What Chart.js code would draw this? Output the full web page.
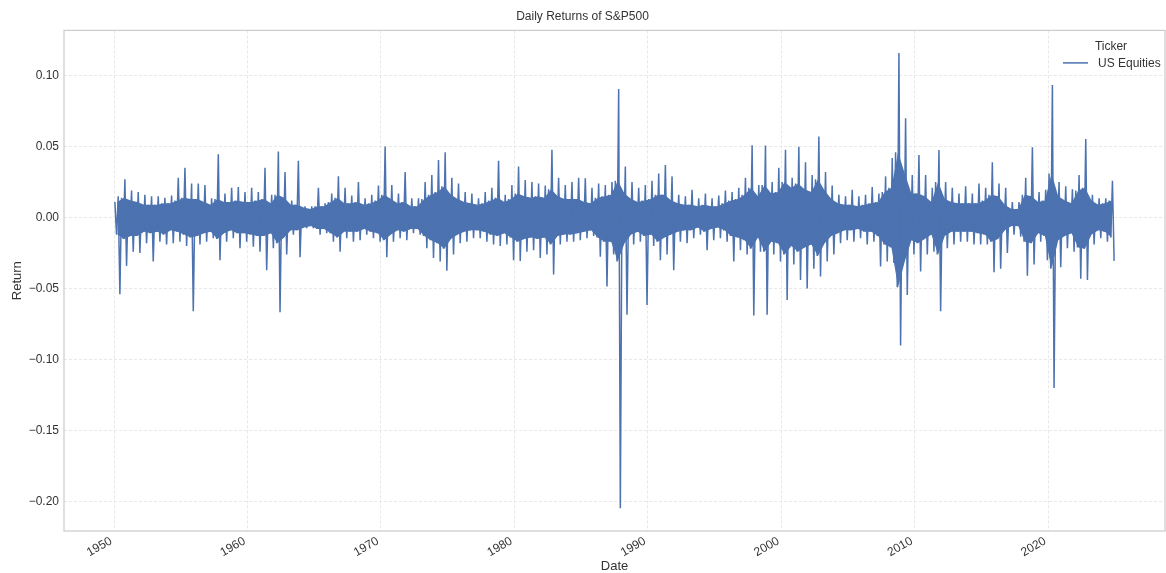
<!DOCTYPE html>
<html><head><meta charset="utf-8">
<script src="https://cdn.jsdelivr.net/npm/chart.js@4/dist/chart.umd.min.js"></script>
<style>html,body{margin:0;padding:0;background:#fff}#wrap{width:1166px;height:573px;position:relative}</style>
</head><body><div id="wrap"><canvas id="c" width="1166" height="573"></canvas></div>
<script>
const chartTitle = 'Daily Returns of S&P500';
const seriesName = 'US Equities';
const legendTitle = 'Ticker';
const xAxisTitle = 'Date';
const yAxisTitle = 'Return';

// calendar years covered, each split into two half-year periods
const years = [1950,1951,1952,1953,1954,1955,1956,1957,1958,1959,
  1960,1961,1962,1963,1964,1965,1966,1967,1968,1969,
  1970,1971,1972,1973,1974,1975,1976,1977,1978,1979,
  1980,1981,1982,1983,1984,1985,1986,1987,1988,1989,
  1990,1991,1992,1993,1994,1995,1996,1997,1998,1999,
  2000,2001,2002,2003,2004,2005,2006,2007,2008,2009,
  2010,2011,2012,2013,2014,2015,2016,2017,2018,2019,
  2020,2021,2022,2023,2024];
const halves = [0, 0.5];

// largest daily return in each half-year (H1, H2 per year)
const peakHigh = [
  0.015,0.027, 0.019,0.018, 0.016,0.015, 0.015,0.014, 0.0155,0.028, 0.035,0.024, 0.024,0.023, 0.0135,0.0446, 0.017,0.021, 0.0215,0.018,
  0.021,0.018, 0.035,0.016, 0.0465,0.032, 0.012,0.040, 0.008,0.008, 0.021,0.010, 0.017,0.029, 0.021,0.0155, 0.025,0.0135, 0.016,0.0225,
  0.050,0.023, 0.017,0.032, 0.0135,0.0135, 0.025,0.030, 0.0405,0.046, 0.028,0.024, 0.018,0.017, 0.0135,0.018, 0.021,0.040, 0.016,0.023,
  0.036,0.0265, 0.025,0.024, 0.0225,0.0477, 0.028,0.023, 0.025,0.028, 0.0277,0.021, 0.024,0.023, 0.025,0.0906, 0.036,0.025, 0.021,0.023,
  0.026,0.031, 0.037,0.029, 0.016,0.015, 0.0195,0.0135, 0.017,0.0135, 0.0155,0.019, 0.018,0.021, 0.028,0.051, 0.023,0.0507, 0.025,0.035,
  0.0477,0.028, 0.0498,0.039, 0.030,0.057, 0.032,0.0225, 0.016,0.015, 0.0195,0.015, 0.016,0.0215, 0.017,0.029, 0.042,0.1158, 0.070,0.030,
  0.044,0.030, 0.021,0.0475, 0.025,0.021, 0.017,0.022, 0.017,0.024, 0.021,0.039, 0.024,0.021, 0.011,0.011, 0.028,0.0495, 0.018,0.0195,
  0.0934,0.025, 0.022,0.020, 0.030,0.0554, 0.016,0.0135, 0.0135,0.026];

// largest daily loss in each half-year
const peakLow = [
  -0.054,-0.034, -0.024,-0.025, -0.018,-0.031, -0.017,-0.019, -0.018,-0.017, -0.020,-0.066, -0.019,-0.017, -0.0145,-0.030, -0.017,-0.0145, -0.0215,-0.017,
  -0.0205,-0.024, -0.037,-0.0215, -0.0667,-0.026, -0.012,-0.028, -0.0075,-0.0075, -0.012,-0.011, -0.017,-0.024, -0.0145,-0.017, -0.016,-0.012, -0.0145,-0.017,
  -0.028,-0.017, -0.0145,-0.016, -0.011,-0.012, -0.0215,-0.0285, -0.031,-0.0375, -0.026,-0.018, -0.017,-0.0145, -0.0145,-0.017, -0.019,-0.020, -0.019,-0.030,
  -0.0305,-0.024, -0.023,-0.0285, -0.026,-0.040, -0.019,-0.017, -0.017,-0.016, -0.0145,-0.013, -0.0275,-0.0486, -0.026,-0.2047, -0.0685,-0.019, -0.017,-0.0615,
  -0.020,-0.030, -0.026,-0.037, -0.017,-0.018, -0.0145,-0.012, -0.023,-0.016, -0.0145,-0.017, -0.031,-0.023, -0.026,-0.069, -0.024,-0.0685, -0.026,-0.031,
  -0.058,-0.033, -0.044,-0.050, -0.036,-0.0415, -0.031,-0.026, -0.018,-0.016, -0.017,-0.0145, -0.019,-0.017, -0.0345,-0.031, -0.032,-0.090, -0.0545,-0.026,
  -0.038,-0.026, -0.024,-0.066, -0.0215,-0.019, -0.017,-0.017, -0.019,-0.019, -0.019,-0.0385, -0.036,-0.025, -0.012,-0.0135, -0.041,-0.033, -0.017,-0.030,
  -0.120,-0.035, -0.0215,-0.024, -0.043,-0.044, -0.019,-0.0145, -0.017,-0.0305];

// upper edge of the dense band of ordinary daily moves in each half-year
const coreHigh = [
  0.011,0.014, 0.012,0.011, 0.009,0.009, 0.009,0.010, 0.010,0.012, 0.014,0.013, 0.013,0.011, 0.009,0.013, 0.011,0.011, 0.012,0.011,
  0.011,0.012, 0.013,0.010, 0.016,0.014, 0.009,0.009, 0.007,0.006, 0.008,0.008, 0.011,0.014, 0.010,0.010, 0.011,0.009, 0.010,0.012,
  0.016,0.013, 0.010,0.011, 0.008,0.008, 0.013,0.016, 0.018,0.022, 0.016,0.013, 0.011,0.010, 0.009,0.010, 0.012,0.014, 0.011,0.013,
  0.017,0.015, 0.014,0.015, 0.014,0.020, 0.015,0.013, 0.013,0.013, 0.011,0.010, 0.014,0.015, 0.016,0.026, 0.017,0.013, 0.011,0.012,
  0.013,0.016, 0.016,0.012, 0.010,0.009, 0.009,0.008, 0.009,0.008, 0.008,0.010, 0.012,0.013, 0.016,0.021, 0.015,0.023, 0.017,0.018,
  0.025,0.021, 0.024,0.020, 0.018,0.027, 0.019,0.013, 0.010,0.009, 0.009,0.008, 0.009,0.010, 0.011,0.018, 0.021,0.046, 0.031,0.017,
  0.017,0.015, 0.011,0.025, 0.013,0.011, 0.010,0.010, 0.010,0.010, 0.012,0.016, 0.015,0.009, 0.006,0.006, 0.016,0.015, 0.011,0.012,
  0.031,0.015, 0.012,0.010, 0.019,0.021, 0.012,0.009, 0.010,0.012];

// lower edge of the dense band in each half-year
const coreLow = [
  -0.012,-0.015, -0.013,-0.013, -0.010,-0.011, -0.010,-0.012, -0.009,-0.010, -0.012,-0.014, -0.013,-0.011, -0.010,-0.015, -0.011,-0.009, -0.011,-0.011,
  -0.012,-0.013, -0.013,-0.011, -0.018,-0.014, -0.009,-0.009, -0.007,-0.006, -0.008,-0.008, -0.011,-0.014, -0.010,-0.010, -0.010,-0.008, -0.010,-0.011,
  -0.016,-0.012, -0.009,-0.010, -0.008,-0.008, -0.013,-0.016, -0.018,-0.022, -0.015,-0.012, -0.010,-0.009, -0.009,-0.010, -0.012,-0.013, -0.011,-0.014,
  -0.017,-0.015, -0.014,-0.015, -0.014,-0.019, -0.013,-0.012, -0.012,-0.011, -0.010,-0.009, -0.014,-0.017, -0.017,-0.031, -0.018,-0.012, -0.010,-0.013,
  -0.012,-0.017, -0.014,-0.012, -0.010,-0.009, -0.009,-0.007, -0.010,-0.008, -0.007,-0.009, -0.013,-0.014, -0.016,-0.022, -0.014,-0.024, -0.017,-0.018,
  -0.026,-0.020, -0.024,-0.021, -0.019,-0.027, -0.018,-0.013, -0.011,-0.009, -0.009,-0.008, -0.010,-0.010, -0.013,-0.019, -0.021,-0.049, -0.031,-0.016,
  -0.018,-0.015, -0.012,-0.026, -0.013,-0.010, -0.010,-0.010, -0.010,-0.011, -0.012,-0.017, -0.015,-0.009, -0.006,-0.006, -0.017,-0.018, -0.011,-0.013,
  -0.036,-0.016, -0.013,-0.011, -0.021,-0.022, -0.012,-0.009, -0.010,-0.014];

const xTicks = [1950,1960,1970,1980,1990,2000,2010,2020];
const yTicks = [-0.20,-0.15,-0.10,-0.05,0.00,0.05,0.10];
const xLimits = [1946.25, 2028.75];
const yLimits = [-0.2207, 0.1318];

const lineColor = '#4c72b0';
const textColor = '#333333';
const gridColor = '#e2e2e2';
const frameColor = '#cccccc';
const fontFamily = "'Liberation Sans', Arial, 'DejaVu Sans', sans-serif";

// build point tables from the arrays
const periods = [];
years.forEach(y => halves.forEach(h => periods.push(y + h)));
const zigzag = [], bandTop = [], bandBottom = [];
periods.forEach((p, i) => {
  zigzag.push({x: p + 0.0625, y: coreHigh[i]});
  zigzag.push({x: p + 0.1875, y: coreLow[i]});
  zigzag.push({x: p + 0.3125, y: peakHigh[i]});
  zigzag.push({x: p + 0.4375, y: peakLow[i]});
  bandTop.push({x: p + 0.25, y: coreHigh[i]});
  bandBottom.push({x: p + 0.25, y: coreLow[i]});
});

const framePlugin = {
  id: 'frame',
  beforeDatasetsDraw(chart) {
    const {ctx, chartArea: a} = chart;
    ctx.save();
    ctx.strokeStyle = frameColor;
    ctx.lineWidth = 1.25;
    ctx.strokeRect(a.left, a.top, a.right - a.left, a.bottom - a.top);
    ctx.restore();
  }
};

// legend drawn in the upper right corner of the plot area, like matplotlib's "best" location here
const legendPlugin = {
  id: 'innerLegend',
  afterDraw(chart) {
    const {ctx, chartArea: a} = chart;
    ctx.save();
    ctx.fillStyle = textColor;
    ctx.font = '12px ' + fontFamily;
    ctx.textBaseline = 'middle';
    ctx.textAlign = 'center';
    ctx.fillText(legendTitle, a.right - 54, a.top + 16);
    ctx.textAlign = 'left';
    ctx.fillText(seriesName, a.right - 67, a.top + 33);
    ctx.strokeStyle = lineColor;
    ctx.lineWidth = 1.5;
    ctx.beginPath();
    ctx.moveTo(a.right - 102, a.top + 32.5);
    ctx.lineTo(a.right - 77, a.top + 32.5);
    ctx.stroke();
    ctx.restore();
  }
};

new Chart(document.getElementById('c'), {
  type: 'line',
  data: {
    datasets: [
      { label: seriesName, data: zigzag, borderColor: lineColor, borderWidth: 1.5,
        pointRadius: 0, tension: 0, fill: false, order: 1 },
      { label: 'bandTop', data: bandTop, borderWidth: 0, borderColor: 'rgba(0,0,0,0)',
        backgroundColor: lineColor, pointRadius: 0, tension: 0, fill: '+1', order: 2 },
      { label: 'bandBottom', data: bandBottom, borderWidth: 0, borderColor: 'rgba(0,0,0,0)',
        pointRadius: 0, tension: 0, fill: false, order: 3 }
    ]
  },
  options: {
    responsive: false, animation: false, devicePixelRatio: 1,
    layout: { padding: { left: 0, right: 1, top: 0, bottom: 0 } },
    plugins: {
      tooltip: { enabled: false },
      legend: { display: false },
      title: { display: true, text: chartTitle, color: textColor,
        font: { family: fontFamily, size: 12, weight: 'normal' }, padding: { top: 9, bottom: 7 } }
    },
    scales: {
      x: {
        type: 'linear', min: xLimits[0], max: xLimits[1],
        afterBuildTicks: ax => { ax.ticks = xTicks.map(v => ({ value: v })); },
        afterFit: ax => { ax.height = 42; },
        grid: { color: gridColor, lineWidth: 0.8, drawTicks: false },
        border: { display: false, dash: [3, 2] },
        ticks: { color: textColor, font: { family: fontFamily, size: 12 }, minRotation: 30, maxRotation: 30,
          padding: 3, labelOffset: -3, autoSkip: false, callback: v => String(v) },
        title: { display: true, text: xAxisTitle, color: textColor,
          font: { family: fontFamily, size: 13, lineHeight: 1 }, padding: { top: 0, bottom: 0 } }
      },
      y: {
        type: 'linear', min: yLimits[0], max: yLimits[1],
        afterBuildTicks: ax => { ax.ticks = yTicks.map(v => ({ value: v })); },
        afterFit: ax => { ax.width = 64; },
        grid: { color: gridColor, lineWidth: 0.8, drawTicks: false },
        border: { display: false, dash: [3, 2] },
        ticks: { color: textColor, font: { family: fontFamily, size: 12 }, padding: 5,
          callback: v => v.toFixed(2).replace('-', '\u2212') },
        title: { display: true, text: yAxisTitle, color: textColor,
          font: { family: fontFamily, size: 13 }, padding: { top: 10, bottom: 0 } }
      }
    }
  },
  plugins: [framePlugin, legendPlugin]
});
</script></body></html>
